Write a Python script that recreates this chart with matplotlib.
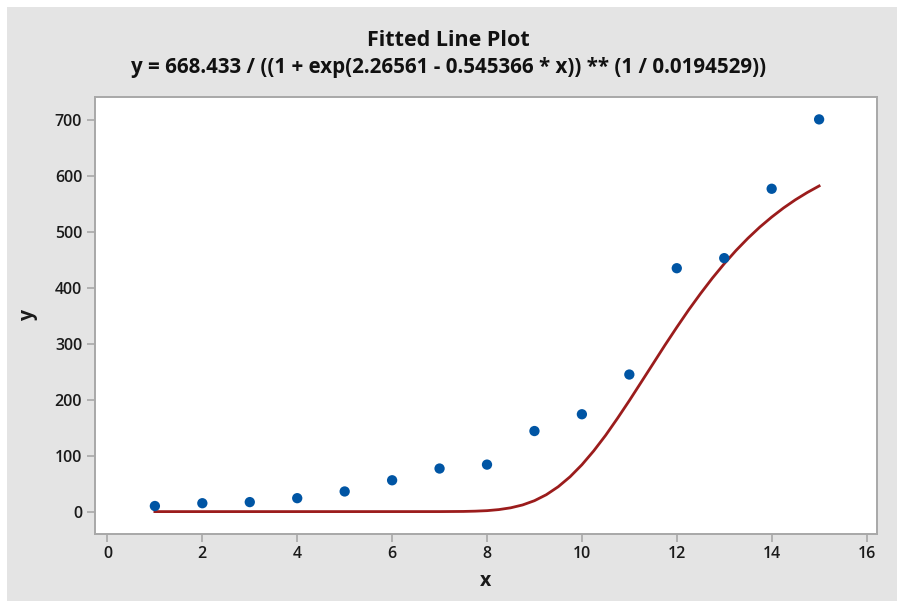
import matplotlib
matplotlib.use("Agg")
from matplotlib import pyplot as plt
from matplotlib.patches import Rectangle

# observed data
x_obs = [1, 2, 3, 4, 5, 6, 7, 8, 9, 10, 11, 12, 13, 14, 15]
y_obs = [10, 15, 17, 24, 36, 56, 77, 84, 144, 174, 245, 435, 453, 577, 701]

# fitted curve
x_fit = [1, 7, 7.5, 7.75, 8, 8.25, 8.5, 8.75, 9, 9.25, 9.5, 9.75, 10, 10.25, 10.5,
         10.75, 11, 11.25, 11.5, 11.75, 12, 12.25, 12.5, 12.75, 13, 13.25, 13.5,
         13.75, 14, 14.25, 14.5, 14.75, 15]
y_fit = [0, 0.03, 0.3, 0.8, 1.7, 3.6, 6.8, 11.9, 19.5, 30.2, 44.4, 62.2, 83.7,
         108.6, 136.3, 166.7, 198.4, 231.3, 264.3, 297.4, 329.4, 360.4, 389.6,
         417.3, 443.0, 466.8, 488.6, 508.5, 526.4, 542.7, 557.3, 570.3, 582.0]

title = "Fitted Line Plot"
subtitle = "y = 668.433 / ((1 + exp(2.26561 - 0.545366 * x)) ** (1 / 0.0194529))"
x_ticks = [0, 2, 4, 6, 8, 10, 12, 14, 16]
y_ticks = [0, 100, 200, 300, 400, 500, 600, 700]

plt.rcParams['font.family'] = ['Open Sans', 'DejaVu Sans']

fig = plt.figure(figsize=(8.97, 6.01), dpi=100, facecolor='white')
fig.patches.append(Rectangle((7 / 897, 0), 1, 1 - 7 / 601, transform=fig.transFigure,
                             facecolor='#e4e4e4', edgecolor='none', zorder=-10))

ax = fig.add_axes([0.1055, 0.1115, 0.8722, 0.7271])
ax.set_facecolor('white')

ax.plot(x_fit, y_fit, color='#9b1c1c', linewidth=2.0, zorder=2)
ax.scatter(x_obs, y_obs, s=55, color='#0055a4', edgecolors='none', zorder=3)

ax.set_xlim(-0.27, 16.22)
ax.set_ylim(-40, 741)
ax.set_xticks(x_ticks)
ax.set_yticks(y_ticks)

for s in ax.spines.values():
    s.set_color('#a8a8a8')
    s.set_linewidth(1.4)
ax.tick_params(direction='out', length=6, width=1.2, color='#a8a8a8',
               labelsize=11.5, labelcolor='#1a1a1a', pad=3)
for lbl in ax.get_xticklabels() + ax.get_yticklabels():
    lbl.set_fontweight('semibold')

ax.set_xlabel('x', fontsize=14, fontweight='bold', color='#1a1a1a', labelpad=6)
ax.set_ylabel('y', fontsize=14, fontweight='bold', color='#1a1a1a', labelpad=12)

fig.text(0.5, 1 - 40 / 601, title, ha='center', va='center', fontsize=15.5,
         fontweight='bold', color='#111111')
fig.text(0.5, 1 - 67 / 601, subtitle, ha='center', va='center', fontsize=14.8,
         fontweight='bold', color='#111111')

fig.savefig('out.png', dpi=100)
